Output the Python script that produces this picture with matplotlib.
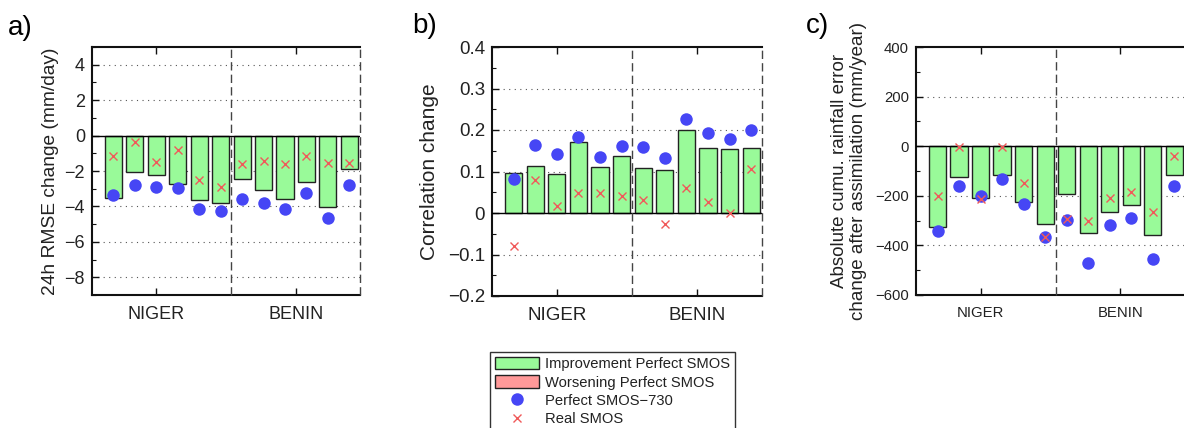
import matplotlib
matplotlib.use("Agg")
import matplotlib.pyplot as plt
from matplotlib.ticker import MultipleLocator
from matplotlib.patches import Patch
from matplotlib.lines import Line2D
import numpy as np

plt.rcParams['font.family'] = ['Liberation Sans', 'DejaVu Sans']

# ---------------- data ----------------
sites = np.arange(1, 13)
region_labels = ["NIGER", "BENIN"]
region_ticks = [3, 9.5]

rmse_perfect = [-3.50, -2.04, -2.21, -2.72, -3.66, -3.79, -2.44, -3.10, -3.60, -2.63, -4.01, -1.88]
rmse_perfect730 = [-3.36, -2.78, -2.93, -2.94, -4.15, -4.28, -3.56, -3.81, -4.16, -3.25, -4.63, -2.81]
rmse_real = [-1.16, -0.38, -1.50, -0.81, -2.53, -2.91, -1.61, -1.43, -1.58, -1.16, -1.56, -1.56]

corr_perfect = [0.097, 0.114, 0.095, 0.170, 0.112, 0.138, 0.109, 0.103, 0.199, 0.157, 0.154, 0.157]
corr_perfect730 = [0.083, 0.165, 0.142, 0.183, 0.136, 0.161, 0.159, 0.132, 0.227, 0.193, 0.178, 0.200]
corr_real = [-0.080, 0.079, 0.016, 0.047, 0.047, 0.042, 0.032, -0.027, 0.060, 0.026, 0.000, 0.106]

rain_perfect = [-327, -126, -207, -118, -227, -315, -191, -349, -266, -238, -360, -118]
rain_perfect730 = [-341, -162, -201, -132, -235, -366, -297, -471, -317, -291, -455, -162]
rain_real = [-199, -3, -212, -3, -150, -366, -293, -303, -209, -185, -266, -40]

GREEN = '#99FA99'
RED = '#FF9999'
BLUE = '#4646F5'
XRED = '#F05A5A'
TXT = '#222222'

W, H = 1184, 428
fig = plt.figure(figsize=(W / 100, H / 100), dpi=100)


def px_axes(l, t, r, b):
    return fig.add_axes([l / W, 1 - b / H, (r - l) / W, (b - t) / H])


def panel(ax, bars, dots, crosses, ylim, major, minor, better_neg, fs_tick, grid_vals):
    colors = [GREEN if ((v < 0) == better_neg) else RED for v in bars]
    for g in grid_vals:
        ax.axhline(g, color='#555555', lw=0.8, ls=(0, (1, 4)), zorder=0)
    ax.bar(sites, bars, width=0.8, color=colors, edgecolor='#222222', lw=1.0, zorder=2)
    ax.axhline(0, color='black', lw=1.0, zorder=3)
    ax.plot(sites, dots, 'o', color=BLUE, ms=9, mec='none', zorder=4)
    ax.plot(sites, crosses, 'x', color=XRED, ms=6, mew=1.0, zorder=5)
    for xv in (6.5, 12.5):
        ax.axvline(xv, color='#444444', lw=1.0, ls=(0, (6, 3)), zorder=3, clip_on=False)
    ax.set_xlim(0, 12.5)
    ax.set_ylim(*ylim)
    ax.yaxis.set_major_locator(MultipleLocator(major))
    ax.yaxis.set_minor_locator(MultipleLocator(minor))
    ax.set_xticks(region_ticks)
    ax.set_xticklabels(region_labels)
    ax.spines['right'].set_visible(False)
    for s in ('left', 'bottom', 'top'):
        ax.spines[s].set_linewidth(1.5)
        ax.spines[s].set_color('#111111')
    ax.tick_params(axis='both', which='both', direction='in', colors='#111111',
                   labelcolor=TXT, labelsize=fs_tick)
    ax.tick_params(axis='y', which='major', length=5, width=1.0, right=False, pad=5)
    ax.tick_params(axis='y', which='minor', length=3, width=0.8, right=False)
    ax.tick_params(axis='x', which='major', length=5, width=1.0, top=True, pad=8)


axa = px_axes(92, 47, 360, 295)
panel(axa, rmse_perfect, rmse_perfect730, rmse_real, (-9, 5), 2, 1, True, 13,
      [4, 2, -2, -4, -6, -8])
axa.set_ylabel('24h RMSE change (mm/day)', fontsize=13.8, color=TXT, labelpad=4)

axb = px_axes(492, 47, 762, 296)
panel(axb, corr_perfect, corr_perfect730, corr_real, (-0.2, 0.4), 0.1, 0.05, False, 13.5,
      [0.3, 0.2, 0.1, -0.1])
axb.set_yticks([-0.2, -0.1, 0, 0.1, 0.2, 0.3, 0.4])
axb.set_yticklabels(['\u22120.2', '\u22120.1', '0', '0.1', '0.2', '0.3', '0.4'])
axb.set_ylabel('Correlation change', fontsize=15, color=TXT, labelpad=6)

axc = px_axes(916, 47, 1185, 295)
panel(axc, rain_perfect, rain_perfect730, rain_real, (-600, 400), 200, 100, True, 10.7,
      [200, -200, -400])
axc.set_ylabel('Absolute cumu. rainfall error\nchange after assimilation (mm/year)',
               fontsize=13.5, color=TXT, labelpad=6, linespacing=1.15)

for txt, x, y in (('a)', 8, 28), ('b)', 412, 26), ('c)', 806, 26)):
    fig.text(x / W, 1 - y / H, txt, fontsize=20, color='black', va='center', ha='left')

handles = [Patch(facecolor=GREEN, edgecolor='#222222', lw=1.0),
           Patch(facecolor=RED, edgecolor='#222222', lw=1.0),
           Line2D([], [], ls='none', marker='o', color=BLUE, ms=9, mec='none'),
           Line2D([], [], ls='none', marker='x', color=XRED, ms=6, mew=1.0)]
labels = ['Improvement Perfect SMOS', 'Worsening Perfect SMOS',
          'Perfect SMOS\u2212730', 'Real SMOS']
leg = fig.legend(handles, labels, loc='upper left',
                 bbox_to_anchor=(490 / W, 1 - 352 / H), borderaxespad=0,
                 fontsize=10.6, frameon=True, fancybox=False, edgecolor='black',
                 handlelength=3.0, handleheight=0.9, handletextpad=0.4,
                 labelspacing=0.28, borderpad=0.35)
leg.get_frame().set_linewidth(1.0)
for t in leg.get_texts():
    t.set_color(TXT)

fig.savefig('out.png', dpi=100)
